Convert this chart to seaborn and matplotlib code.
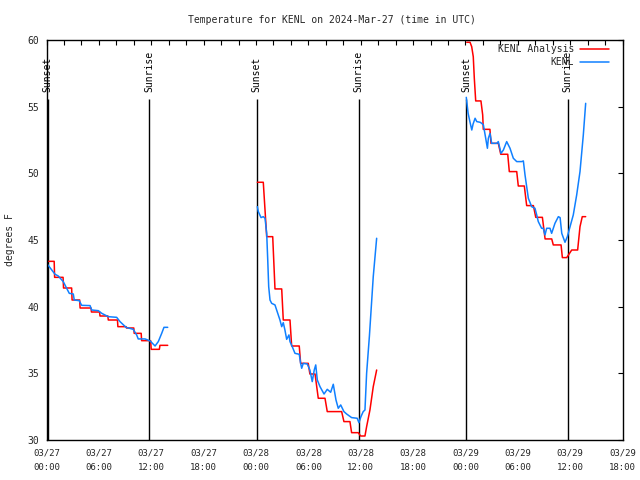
import numpy as np
import pandas as pd
import matplotlib
matplotlib.use("Agg")
import matplotlib.pyplot as plt
import matplotlib.dates as mdates
from matplotlib.lines import Line2D
import seaborn as sns

# ---------------- data (hours since 2024-03-27 00:00 UTC, degrees F) ----------------
START = pd.Timestamp("2024-03-27 00:00")

analysis_hours_1 = [0.02, 0.88, 0.93, 1.90, 1.95, 2.88, 2.93, 3.80, 3.85, 5.10, 5.15, 6.08, 6.13,
                    7.03, 7.08, 8.13, 8.18, 9.12, 9.17, 10.00, 10.05, 10.85, 10.90, 11.93, 12.00,
                    12.93, 13.00, 13.89]
analysis_temp_1 = [43.4, 43.4, 42.2, 42.2, 41.4, 41.4, 40.5, 40.5, 39.9, 39.9, 39.6, 39.6, 39.3,
                   39.3, 39.0, 39.0, 38.5, 38.5, 38.4, 38.4, 38.0, 38.0, 37.45, 37.45, 36.8,
                   36.8, 37.1, 37.1]

analysis_hours_2 = [24.16, 24.84, 25.23, 25.92, 26.18, 26.95, 27.13, 27.90, 28.09, 28.96, 29.12,
                    29.99, 30.18, 30.77, 31.14, 31.91, 32.17, 33.82, 34.08, 34.77, 34.96, 35.72,
                    35.99, 36.49, 36.68, 37.06, 37.44, 37.83]
analysis_temp_2 = [49.33, 49.33, 45.25, 45.25, 41.33, 41.33, 39.0, 39.0, 37.05, 37.05, 35.75,
                   35.75, 34.95, 34.95, 33.13, 33.13, 32.13, 32.13, 31.38, 31.38, 30.55, 30.55,
                   30.3, 30.3, 31.0, 32.25, 34.0, 35.25]

analysis_hours_3 = [48.15, 48.53, 48.72, 48.90, 49.02, 49.18, 49.78, 49.98, 50.05, 50.81, 50.93,
                    51.77, 52.05, 52.85, 53.03, 53.88, 54.06, 54.75, 55.02, 55.79, 56.06, 56.82,
                    57.13, 57.89, 58.07, 58.96, 59.11, 59.61, 60.18, 60.86, 61.13, 61.39, 61.78]
analysis_temp_3 = [59.83, 59.83, 59.5, 58.75, 57.13, 55.43, 55.43, 54.38, 53.3, 53.3, 52.25,
                   52.25, 51.43, 51.43, 50.13, 50.13, 49.05, 49.05, 47.58, 47.58, 46.7, 46.7,
                   45.08, 45.08, 44.63, 44.63, 43.68, 43.68, 44.25, 44.25, 46.0, 46.75, 46.75]

kenl_hours_1 = [0.02, 0.98, 1.35, 1.92, 2.31, 2.61, 3.07, 3.18, 3.75, 4.03, 4.99, 5.18, 5.94,
                6.33, 7.08, 8.04, 8.42, 9.11, 9.94, 10.33, 10.51, 11.29, 11.87, 12.44, 12.81,
                13.20, 13.46, 13.89]
kenl_temp_1 = [43.25, 42.43, 42.3, 41.88, 41.38, 41.0, 40.95, 40.5, 40.45, 40.1, 40.08, 39.75,
               39.7, 39.5, 39.25, 39.2, 38.88, 38.45, 38.3, 37.88, 37.58, 37.58, 37.43, 37.05,
               37.38, 38.0, 38.45, 38.45]

kenl_hours_2 = [24.16, 24.27, 24.58, 24.84, 25.04, 25.23, 25.35, 25.46, 25.61, 25.80, 26.18,
                26.37, 26.75, 26.95, 27.13, 27.32, 27.52, 27.78, 27.90, 28.16, 28.47, 28.96,
                29.12, 29.24, 29.42, 29.88, 30.18, 30.45, 30.68, 30.85, 31.03, 31.34, 31.80,
                32.17, 32.56, 32.86, 33.17, 33.43, 33.71, 34.08, 34.39, 34.96, 35.60, 35.80,
                36.03, 36.29, 36.49, 36.68, 37.00, 37.44, 37.83]
kenl_temp_2 = [47.5, 47.13, 46.68, 46.75, 46.63, 45.5, 43.5, 41.5, 40.5, 40.25, 40.13,
               39.75, 39.0, 38.5, 38.8, 38.25, 37.55, 37.88, 37.38, 37.0, 36.5, 36.43,
               35.75, 35.38, 35.75, 35.7, 35.25, 34.38, 35.25, 35.63, 34.5, 34.0, 33.45,
               33.8, 33.58, 34.18, 33.0, 32.38, 32.63, 32.13, 31.95, 31.68, 31.63, 31.3,
               31.75, 32.13, 32.25, 35.0, 37.8, 42.25, 45.13]

kenl_hours_3 = [48.10, 48.31, 48.54, 48.73, 48.88, 49.11, 49.30, 49.68, 49.87, 50.06, 50.26,
                50.52, 50.63, 50.82, 51.01, 51.59, 51.77, 52.08, 52.35, 52.73, 53.11, 53.49,
                53.88, 54.45, 54.64, 54.83, 55.21, 55.59, 55.97, 56.17, 56.35, 56.54, 56.73,
                56.92, 57.12, 57.31, 57.69, 57.88, 58.26, 58.65, 58.85, 59.04, 59.41, 59.68,
                59.99, 60.36, 60.75, 61.13, 61.51, 61.78]
kenl_temp_3 = [55.7, 54.5, 53.8, 53.25, 53.7, 54.13, 53.88, 53.83, 53.75, 53.63, 52.88,
               51.88, 52.63, 53.0, 52.25, 52.25, 52.38, 51.5, 51.75, 52.38, 51.88, 51.13,
               50.88, 50.88, 50.93, 49.88, 48.13, 47.5, 47.38, 46.88, 46.38, 46.13, 45.88,
               45.88, 45.38, 45.88, 45.88, 45.5, 46.25, 46.75, 46.68, 45.5, 44.83, 45.25,
               46.0, 46.88, 48.38, 50.13, 52.88, 55.25]

sunset_hours = [0.13, 24.10, 48.10]
sunrise_hours = [11.77, 35.75, 59.73]

series_names = ["KENL Analysis", "KENL"]
series_colors = ["#ff0000", "#1080ff"]
title_text = "Temperature for KENL on 2024-Mar-27 (time in UTC)"
ylabel_text = "degrees F"

# ---------------- build long table ----------------
rows = []
for name, segs in [
    ("KENL Analysis", [(analysis_hours_1, analysis_temp_1), (analysis_hours_2, analysis_temp_2),
                       (analysis_hours_3, analysis_temp_3)]),
    ("KENL", [(kenl_hours_1, kenl_temp_1), (kenl_hours_2, kenl_temp_2),
              (kenl_hours_3, kenl_temp_3)]),
]:
    for si, (hh, tt) in enumerate(segs):
        for h, t in zip(hh, tt):
            rows.append({"series": name, "seg": si, "time": START + pd.Timedelta(hours=h), "temp": t})
df = pd.DataFrame(rows)

# ---------------- plot ----------------
sns.set_style("white")
plt.rcParams["font.family"] = ["DejaVu Sans Mono", "DejaVu Sans"]

fig = plt.figure(figsize=(6.4, 4.8), dpi=100)
ax = fig.add_axes([46.5 / 640, 40 / 480, 576 / 640, 400 / 480])

palette = dict(zip(series_names, series_colors))
sns.lineplot(data=df, x="time", y="temp", hue="series", hue_order=series_names, units="seg",
             estimator=None, sort=False, palette=palette, linewidth=1.1, ax=ax, legend=False)

# sunrise / sunset markers
for hours, label in [(sunset_hours, "Sunset"), (sunrise_hours, "Sunrise")]:
    for h in hours:
        t = START + pd.Timedelta(hours=h)
        ax.vlines(t, 30, 55.6, color="black", linewidth=1.0, zorder=1)
        ax.text(t, 56.1, label, rotation=90, ha="center", va="bottom", fontsize=7, color="black")

ax.set_xlim(START, START + pd.Timedelta(hours=66))
ax.set_ylim(30, 60)
ax.set_yticks(np.arange(30, 61, 5))
ax.xaxis.set_major_locator(mdates.HourLocator(byhour=range(0, 24, 6)))
ax.xaxis.set_minor_locator(mdates.HourLocator(byhour=range(0, 24, 2)))
ax.xaxis.set_major_formatter(mdates.DateFormatter("%m/%d\n%H:%M"))

ax.tick_params(axis="both", which="both", direction="in", length=3.5, width=0.8,
               top=True, right=True, color="black")
ax.tick_params(axis="x", labelsize=6.5, pad=6.0)
ax.tick_params(axis="y", labelsize=7, pad=5)

for sp in ax.spines.values():
    sp.set_color("black")
    sp.set_linewidth(1.0)

ax.set_xlabel("")
ax.set_ylabel(ylabel_text, fontsize=7)
ax.yaxis.set_label_coords(-0.054, 0.5)

fig.text(332 / 640, 1 - 20 / 480, title_text, ha="center", va="center", fontsize=7)

handles = [Line2D([], [], color=c, linewidth=1.1) for c in series_colors]
ax.legend(handles, series_names, loc="upper right", bbox_to_anchor=(0.9766, 0.99),
          markerfirst=False, frameon=False, handlelength=3.0, handletextpad=0.6,
          labelspacing=0.35, borderpad=0, borderaxespad=0, fontsize=7)

fig.canvas.draw()
for lbl in ax.get_xticklabels():
    lbl.set_linespacing(1.75)

fig.savefig("out.png", dpi=100)
